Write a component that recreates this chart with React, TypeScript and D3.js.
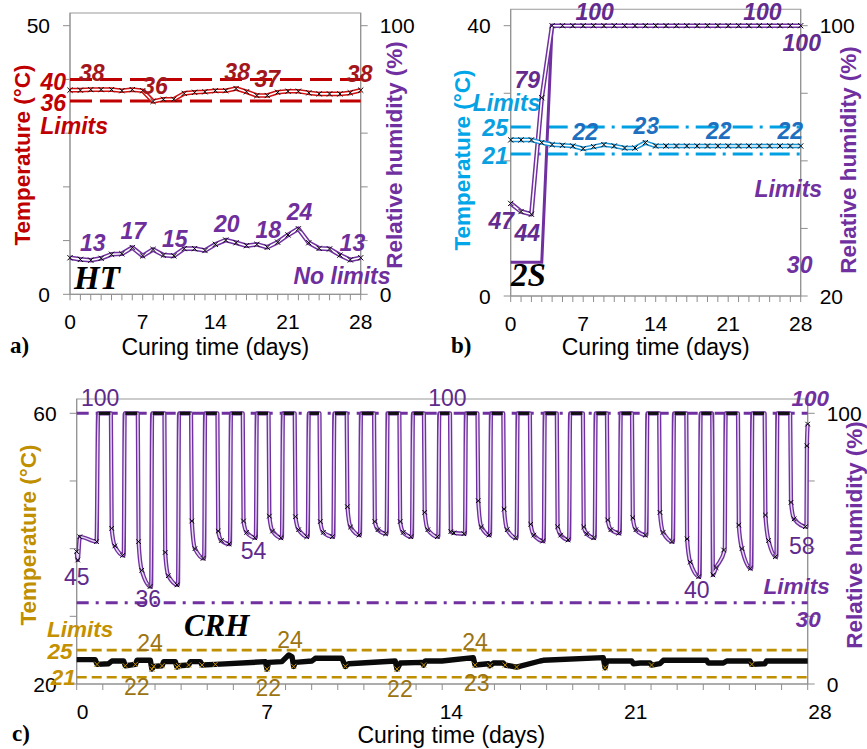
import React from "react";
import * as d3 from "d3";

// ---------- shared ----------
const days = [0, 1, 2, 3, 4, 5, 6, 7, 8, 9, 10, 11, 12, 13, 14, 15, 16, 17, 18, 19, 20, 21, 22, 23, 24, 25, 26, 27, 28];
const dayLabels = [0, 7, 14, 21, 28];

// ---------- panel a : HT ----------
const htTemp = [38.0, 38.0, 38.1, 38.1, 38.1, 37.9, 38.1, 37.9, 35.9, 36.3, 36.3, 37.4, 37.6, 37.7, 37.9, 37.9, 38.3, 37.7, 37.0, 37.0, 37.6, 37.8, 37.8, 37.5, 37.3, 37.3, 37.3, 37.5, 38.0];
const htRH = [13.6, 13.0, 12.7, 13.4, 14.9, 15.1, 17.4, 14.3, 16.7, 14.6, 14.3, 17.0, 17.0, 16.3, 18.6, 20.2, 19.2, 18.1, 18.6, 17.5, 19.4, 22.1, 24.4, 19.2, 17.1, 16.9, 14.6, 12.8, 13.6];
const htTempLimits = [36, 40];
const htTempTicks = [0, 10, 20, 30, 40, 50];
const htTempTickLabels = [0, 50];
const htRHTicks = [0, 20, 40, 60, 80, 100];
const htRHTickLabels = [0, 100];
const htTempNotes: [string, number, number][] = [["38", 2.1, 41.2], ["36", 8.2, 38.8], ["38", 16.1, 41.4], ["37", 19.0, 40.1], ["38", 27.9, 41.0]];
const htLimitNotes: [string, number, number][] = [["40", -1.6, 39.6], ["36", -1.6, 35.7], ["Limits", 0.4, 31.3]];
const htRHNotes: [string, number, number][] = [["13", 2.2, 19.1], ["17", 6.1, 23.6], ["15", 10.1, 20.6], ["20", 15.1, 26.2], ["18", 19.1, 23.9], ["24", 22.1, 30.6], ["13", 27.2, 19.1], ["No limits", 26.2, 6.8]];

// ---------- panel b : 2S ----------
const ssTemp = [23.1, 23.1, 23.1, 22.7, 22.4, 22.3, 22.2, 21.8, 22.1, 22.4, 22.2, 21.9, 21.9, 22.7, 22.2, 22.2, 22.2, 22.2, 22.2, 22.2, 22.2, 22.2, 22.2, 22.2, 22.2, 22.2, 22.2, 22.2, 22.2];
const ssRH = [47.4, 45.0, 44.2, 78.7, 100, 100, 100, 100, 100, 100, 100, 100, 100, 100, 100, 100, 100, 100, 100, 100, 100, 100, 100, 100, 100, 100, 100, 100, 100];
const ssSetDays = [0, 3, 4, 28];
const ssSetRH = [30, 30, 100, 100];
const ssTempLimits = [21, 25];
const ssTempTicks = [0, 10, 20, 30, 40];
const ssTempTickLabels = [0, 40];
const ssRHTicks = [20, 40, 60, 80, 100];
const ssRHTickLabels = [20, 100];
const ssTempNotes: [string, number, number][] = [["22", 7.2, 24.3], ["23", 13.1, 25.15], ["22", 20.1, 24.45], ["22", 27.0, 24.45]];
const ssLimitNotes: [string, number, number][] = [["Limits", -0.4, 28.5], ["25", -1.5, 24.8], ["21", -1.5, 20.7]];
const ssRHNotes: [string, number, number][] = [["100", 8.1, 104.2], ["100", 24.3, 104.2], ["100", 28.1, 95.0], ["79", 1.6, 83.9], ["47", -0.9, 42.3], ["44", 1.6, 38.6]];
const ssRHLimitNotes: [string, number, number][] = [["Limits", 26.8, 51.6], ["30", 27.9, 29.2]];

// ---------- panel c : CRH ----------
const crhStartDays = [0, 0.04, 0.12, 0.76];
const crhStartRH = [48.9, 45.8, 54.4, 52.6];
const crhRise = [0.78, 1.8, 2.85, 3.88, 4.88, 5.87, 6.86, 7.86, 8.85, 9.83, 10.85, 11.87, 12.84, 13.85, 14.87, 15.83, 16.85, 17.89, 18.86, 19.84, 20.8, 21.82, 22.84, 23.86, 24.82, 25.84, 26.8, 27.95];
const crhFall = [1.31, 2.34, 3.36, 4.38, 5.39, 6.36, 7.35, 8.35, 9.3, 10.34, 11.39, 12.36, 13.3, 14.3, 15.35, 16.34, 17.36, 18.39, 19.39, 20.31, 21.27, 22.31, 23.35, 24.34, 25.33, 26.35, 27.33];
const crhKnee = [57.5, 52.6, 48.6, 60.2, 56.5, 60.2, 62.0, 61.8, 60.0, 65.5, 60.0, 60.0, 63.4, 56.3, 67.7, 64.6, 59.0, 58.1, 58.0, 60.6, 61.4, 63.4, 53.6, 40.3, 58.7, 62.4, 67.1];
const crhMid = [51, 42, 40, 50, 53, 56, 56.5, 57, 56, 58, 57, 56, 57, 55.8, 58, 57, 55, 55, 55.5, 57, 57, 56, 45, 43, 50, 53, 61];
const crhTrough = [47.5, 36.0, 36.6, 46.4, 51.7, 54.0, 54.0, 54.4, 54.4, 55.0, 55.5, 54.4, 54.4, 55.5, 55.0, 54.0, 52.8, 53.2, 54.0, 55.7, 55.0, 52.6, 39.6, 49.5, 42.7, 47.0, 58.1];
const crhEndDays = [27.97, 28.0];
const crhEndRH = [88, 96];
const crhTempDays = [0, 0.71, 0.78, 1.22, 1.35, 1.8, 1.86, 2.25, 2.31, 2.82, 2.88, 2.95, 3.27, 3.33, 3.78, 3.84, 3.91, 4.29, 4.35, 4.74, 4.8, 5.31, 7.23, 7.29, 7.35, 7.86, 8.12, 8.25, 8.31, 8.37, 9.01, 9.14, 10.16, 10.29, 10.42, 12.2, 12.27, 12.4, 13.23, 13.29, 13.35, 13.99, 15.19, 15.26, 15.77, 15.83, 15.96, 16.34, 16.41, 16.85, 17.75, 17.87, 20.17, 20.24, 20.3, 21.26, 21.32, 21.58, 21.96, 22.02, 22.34, 22.47, 24.13, 24.19, 24.77, 24.9, 25.79, 25.86, 26.36, 26.42, 27.96, 28];
const crhTemp = [23.6, 23.6, 22.9, 23.0, 23.4, 23.4, 22.7, 22.9, 23.5, 23.5, 22.2, 22.6, 22.7, 23.3, 23.3, 22.5, 22.7, 22.8, 23.3, 23.3, 22.8, 22.9, 23.3, 22.2, 23.2, 23.3, 24.3, 24.0, 22.6, 23.2, 23.4, 23.8, 23.8, 22.6, 23.0, 23.4, 22.2, 23.1, 23.2, 22.8, 23.4, 23.4, 23.9, 22.8, 23.0, 22.7, 23.1, 23.1, 22.8, 22.5, 23.4, 23.5, 23.9, 22.4, 23.4, 23.4, 23.0, 23.1, 23.1, 22.8, 23.0, 23.5, 23.5, 23.1, 23.1, 23.4, 23.4, 22.9, 23.0, 23.4, 23.4, 23.4];
const crhTempLimits = [21, 25];
const crhRHLimits = [30, 100];
const crhTempTicks = [20, 30, 40, 50, 60];
const crhTempTickLabels = [20, 60];
const crhRHTicks = [0, 25, 50, 75, 100];
const crhRHTickLabels = [0, 100];
const crhRHNotes: [string, number, number][] = [["100", 0.9, 105.5], ["100", 14.2, 105.5], ["45", 0.0, 39.6], ["36", 2.74, 31.3], ["54", 6.77, 49.1], ["40", 23.75, 34.7], ["58", 27.77, 51.0]];
const crhRHLimitNotes: [string, number, number][] = [["100", 28.1, 105.5], ["Limits", 27.58, 35.9], ["30", 28.02, 23.9]];
const crhTempNotes: [string, number, number][] = [["24", 2.81, 26.1], ["24", 8.17, 26.5], ["24", 15.26, 26.25], ["22", 2.3, 19.6], ["22", 7.34, 19.36], ["22", 12.38, 19.2], ["23", 15.32, 20.1]];
const crhLimitNotes: [string, number, number][] = [["Limits", 0.13, 28.0], ["25", -0.64, 24.8], ["21", -0.51, 21.0]];

// ---------- drawing helpers ----------
const FONT = "'Liberation Sans', Arial, sans-serif";
const SERIF = "'Liberation Serif', 'Times New Roman', serif";
const PURPLE = "#7030A0";
type S = d3.ScaleLinear<number, number>;
type P = [number, number];

const zip = (xs: number[], ys: number[]): P[] => xs.map((v, i) => [v, ys[i]]);
const mkPath = (x: S, y: S, pts: P[], curve: d3.CurveFactory = d3.curveLinear) =>
  d3.line<P>().x(d => x(d[0])).y(d => y(d[1])).curve(curve)(pts) || "";

function Crosses({ x, y, pts, color = "#000", s = 2.6 }: { x: S; y: S; pts: P[]; color?: string; s?: number }) {
  const d = pts.map(p => {
    const cx = x(p[0]), cy = y(p[1]);
    return `M${cx - s},${cy - s}L${cx + s},${cy + s}M${cx - s},${cy + s}L${cx + s},${cy - s}`;
  }).join("");
  return <path d={d} stroke={color} strokeWidth={1} fill="none" />;
}

function Double({ d, color, w = 4.6, inner = "#fff", iw = 1.6 }: { d: string; color: string; w?: number; inner?: string; iw?: number }) {
  return (
    <g>
      <path d={d} fill="none" stroke={color} strokeWidth={w} strokeLinejoin="round" />
      <path d={d} fill="none" stroke={inner} strokeWidth={iw} strokeLinejoin="round" />
    </g>
  );
}

function Notes({ x, y, notes, fill, size = 23, bold = true, italic = true, family = FONT }:
  { x: S; y: S; notes: [string, number, number][]; fill: string; size?: number; bold?: boolean; italic?: boolean; family?: string }) {
  return (
    <g>
      {notes.map((n, i) => (
        <text key={i} x={x(n[1])} y={y(n[2])} fill={fill} fontSize={size} fontFamily={family}
          fontWeight={bold ? "bold" : "normal"} fontStyle={italic ? "italic" : "normal"}
          textAnchor="middle" dominantBaseline="central">{n[0]}</text>
      ))}
    </g>
  );
}

function Frame({ x, yL, yR, top, lTicks, lLabels, rTicks, rLabels, xLab, titleY, lTitle, lColor, lTitleX, rTitleX, rTitleColor, titleYc, letter, letterX }:
  { x: S; yL: S; yR: S; top: number; lTicks: number[]; lLabels: number[]; rTicks: number[]; rLabels: number[]; xLab: S; titleY: number;
    lTitle: string; lColor: string; lTitleX: number; rTitleX: number; rTitleColor: string; titleYc: number; letter: string; letterX: number }) {
  const x0 = x(0), x1 = x(28), yb = yL.range()[0];
  const grey = "#8E8E8E";
  return (
    <g fontFamily={FONT}>
      <rect x={x0} y={top} width={x1 - x0} height={yb - top} fill="none" stroke="#ABABAB" strokeWidth={1.2} />
      <line x1={x0} x2={x0} y1={top} y2={yb} stroke={grey} />
      <line x1={x1} x2={x1} y1={top} y2={yb} stroke={grey} />
      <line x1={x0} x2={x1} y1={yb} y2={yb} stroke={grey} />
      {lTicks.map(t => <line key={"l" + t} x1={x0 - 7} x2={x0} y1={yL(t)} y2={yL(t)} stroke={grey} />)}
      {rTicks.map(t => <line key={"r" + t} x1={x1} x2={x1 + 7} y1={yR(t)} y2={yR(t)} stroke={grey} />)}
      {days.map(d => <line key={"d" + d} x1={x(d)} x2={x(d)} y1={yb} y2={yb + 6} stroke={grey} />)}
      {lLabels.map(t => <text key={"ll" + t} x={x0 - 20} y={yL(t)} fontSize={21} textAnchor="end" dominantBaseline="central">{t}</text>)}
      {rLabels.map(t => <text key={"rl" + t} x={x1 + 19} y={yR(t)} fontSize={21} textAnchor="start" dominantBaseline="central">{t}</text>)}
      {dayLabels.map(d => <text key={"xl" + d} x={xLab(d)} y={yb + 27} fontSize={21} textAnchor="middle" dominantBaseline="central">{d}</text>)}
      <text x={(xLab(0) + xLab(28)) / 2} y={titleY} fontSize={23} textAnchor="middle" dominantBaseline="central">Curing time (days)</text>
      <text transform={`translate(${lTitleX},${titleYc}) rotate(-90)`} fontSize={22.5} fontWeight="bold" fill={lColor} textAnchor="middle" dominantBaseline="central">{lTitle}</text>
      <text transform={`translate(${rTitleX},${titleYc}) rotate(-90)`} fontSize={22.5} fontWeight="bold" fill={rTitleColor} textAnchor="middle" dominantBaseline="central">Relative humidity (%)</text>
      <text x={letterX} y={titleY - 2} fontSize={23} fontWeight="bold" fontFamily={SERIF} dominantBaseline="central">{letter}</text>
    </g>
  );
}

export default function App() {
  // ---- panel a ----
  const xa = d3.scaleLinear().domain([0, 28]).range([70, 360.7]);
  const ya = d3.scaleLinear().domain([0, 50]).range([294.3, 25.7]);
  const yaR = d3.scaleLinear().domain([0, 100]).range([294.3, 25.7]);
  const aTempPts = zip(days, htTemp);
  const aRHPts = zip(days, htRH);

  // ---- panel b ----
  const xb = d3.scaleLinear().domain([0, 28]).range([510.7, 800.7]);
  const yb = d3.scaleLinear().domain([0, 40]).range([296, 25.7]);
  const ybR = d3.scaleLinear().domain([20, 100]).range([296, 25.7]);
  const bTempPts = zip(days, ssTemp);
  const bRHPts = zip(days, ssRH);
  const bSetPts = zip(ssSetDays, ssSetRH);

  // ---- panel c ----
  const xc = d3.scaleLinear().domain([0, 28]).range([76.7, 807.7]);
  const xcLab = d3.scaleLinear().domain([0, 28]).range([82.7, 820]);
  const yc = d3.scaleLinear().domain([20, 60]).range([684, 413.3]);
  const ycR = d3.scaleLinear().domain([0, 100]).range([684, 413.3]);
  const cRHPts: P[] = zip(crhStartDays, crhStartRH);
  const cMarks: P[] = zip(crhStartDays, crhStartRH);
  const plateaus: P[][] = [];
  crhFall.forEach((f, i) => {
    cRHPts.push([crhRise[i] + 0.04, 100], [f, 100], [f + 0.03, crhKnee[i]], [f + 0.15, crhMid[i]], [crhRise[i + 1], crhTrough[i]]);
    cMarks.push([f + 0.03, crhKnee[i]], [f + 0.15, crhMid[i]], [crhRise[i + 1] - 0.04, crhTrough[i]]);
    plateaus.push([[crhRise[i] + 0.06, 100], [f - 0.02, 100]]);
  });
  zip(crhEndDays, crhEndRH).forEach(p => { cRHPts.push(p); cMarks.push(p); });
  const cTempPts = zip(crhTempDays, crhTemp);
  const GOLD = "#BF8F00";

  return (
    <svg width={867} height={749} style={{ position: "absolute", left: 0, top: 0, background: "#fff" }} fontFamily={FONT}>
      <rect width={867} height={749} fill="#fff" />

      {/* ===== a) HT ===== */}
      <Frame x={xa} yL={ya} yR={yaR} top={13} lTicks={htTempTicks} lLabels={htTempTickLabels} rTicks={htRHTicks} rLabels={htRHTickLabels}
        xLab={xa} titleY={347} lTitle="Temperature (°C)" lColor="#C00000" lTitleX={22} rTitleX={394} rTitleColor={PURPLE} titleYc={155} letter="a)" letterX={10} />
      {htTempLimits.map(l => <line key={l} x1={xa(0)} x2={xa(28)} y1={ya(l)} y2={ya(l)} stroke="#C00000" strokeWidth={3} strokeDasharray="22,8" />)}
      <Double d={mkPath(xa, ya, aTempPts)} color="#D01010" />
      <Crosses x={xa} y={ya} pts={aTempPts} />
      <Double d={mkPath(xa, yaR, aRHPts)} color={PURPLE} />
      <Crosses x={xa} y={yaR} pts={aRHPts} />
      <Notes x={xa} y={ya} notes={htTempNotes} fill="#A3161C" />
      <Notes x={xa} y={ya} notes={htLimitNotes} fill="#C00000" />
      <Notes x={xa} y={yaR} notes={htRHNotes} fill="#6E2E9C" />
      <text x={xa(2.6)} y={ya(3.0)} fontSize={33} fontFamily={SERIF} fontWeight="bold" fontStyle="italic" textAnchor="middle" dominantBaseline="central">HT</text>

      {/* ===== b) 2S ===== */}
      <Frame x={xb} yL={yb} yR={ybR} top={9.3} lTicks={ssTempTicks} lLabels={ssTempTickLabels} rTicks={ssRHTicks} rLabels={ssRHTickLabels}
        xLab={xb} titleY={347} lTitle="Temperature (°C)" lColor="#00A6E8" lTitleX={462} rTitleX={848} rTitleColor={PURPLE} titleYc={160} letter="b)" letterX={451} />
      {ssTempLimits.map(l => <line key={l} x1={xb(0)} x2={xb(28)} y1={yb(l)} y2={yb(l)} stroke="#00A0E2" strokeWidth={3} strokeDasharray="20,7,3,7" />)}
      <path d={mkPath(xb, ybR, bSetPts)} fill="none" stroke={PURPLE} strokeWidth={3} />
      <Double d={mkPath(xb, ybR, bRHPts)} color={PURPLE} />
      <Crosses x={xb} y={ybR} pts={bRHPts} />
      <Double d={mkPath(xb, yb, bTempPts)} color="#1A96D6" />
      <Crosses x={xb} y={yb} pts={bTempPts} />
      <Notes x={xb} y={yb} notes={ssTempNotes} fill="#1F6FBF" />
      <Notes x={xb} y={yb} notes={ssLimitNotes} fill="#0A9FE0" />
      <Notes x={xb} y={ybR} notes={ssRHNotes} fill="#632B8E" />
      <Notes x={xb} y={ybR} notes={ssRHLimitNotes} fill={PURPLE} />
      <text x={xb(1.7)} y={yb(3.1)} fontSize={33} fontFamily={SERIF} fontWeight="bold" fontStyle="italic" textAnchor="middle" dominantBaseline="central">2S</text>

      {/* ===== c) CRH ===== */}
      <Frame x={xc} yL={yc} yR={ycR} top={399} lTicks={crhTempTicks} lLabels={crhTempTickLabels} rTicks={crhRHTicks} rLabels={crhRHTickLabels}
        xLab={xcLab} titleY={735} lTitle="Temperature (°C)" lColor={GOLD} lTitleX={28} rTitleX={854} rTitleColor={PURPLE} titleYc={535} letter="c)" letterX={12} />
      {crhRHLimits.map(l => <line key={l} x1={xc(0)} x2={xc(28)} y1={ycR(l)} y2={ycR(l)} stroke={PURPLE} strokeWidth={3} strokeDasharray="12,7,3,7" />)}
      {crhTempLimits.map(l => <line key={l} x1={xc(0)} x2={xc(28)} y1={yc(l)} y2={yc(l)} stroke={GOLD} strokeWidth={2.6} strokeDasharray="10,5" />)}
      <Double d={mkPath(xc, ycR, cRHPts, d3.curveMonotoneX)} color={PURPLE} w={4.2} inner="#E6D8F2" iw={1.5} />
      {plateaus.map((p, i) => <path key={i} d={mkPath(xc, ycR, p)} stroke="#111" strokeWidth={3.2} fill="none" />)}
      <Crosses x={xc} y={ycR} pts={cMarks} s={2.3} />
      <path d={mkPath(xc, yc, cTempPts)} fill="none" stroke="#0A0A0A" strokeWidth={5.4} strokeLinejoin="round" />
      <Crosses x={xc} y={yc} pts={cTempPts.filter(p => p[1] <= 22.9)} color={GOLD} s={2.6} />
      <Notes x={xc} y={ycR} notes={crhRHNotes} fill="#5E2A8C" size={23} bold={false} italic={false} />
      <Notes x={xc} y={ycR} notes={crhRHLimitNotes} fill={PURPLE} size={22.5} />
      <Notes x={xc} y={yc} notes={crhTempNotes} fill="#9C7512" size={23} bold={false} italic={false} />
      <Notes x={xc} y={yc} notes={crhLimitNotes} fill="#C49000" size={22.5} />
      <text x={xc(5.36)} y={yc(28.7)} fontSize={31} fontFamily={SERIF} fontWeight="bold" fontStyle="italic" textAnchor="middle" dominantBaseline="central">CRH</text>
    </svg>
  );
}
